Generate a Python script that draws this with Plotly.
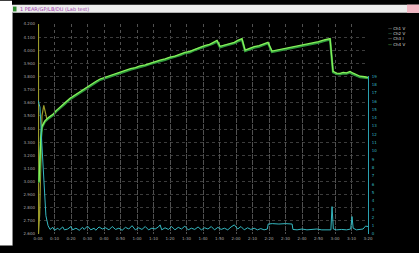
import plotly.graph_objects as go

# ---------------- data ----------------
series_names = ["Ch1 V", "Ch2 V", "Ch3 I", "Ch4 V"]

# olive start trace (left axis)
t_olive = [0.3, 0.3, 1.0, 1.8, 2.4, 3.5, 4.5, 5.5]
v_olive = [4.20, 2.60, 2.75, 3.30, 3.50, 3.58, 3.52, 3.47]

# main bright green trace (left axis)
t_green = [0.6, 1.2, 1.8, 2.4, 4.2, 6.5, 9.1, 11, 13.3, 16, 19.4, 22, 25, 27, 29.7, 32, 35,
           37.6, 40, 43, 46, 49.7, 53, 56, 59, 61.8, 65, 68, 71, 73.9, 77, 80, 83, 86.1, 89,
           92, 95, 98.2, 101, 104, 106, 108.5, 110.3, 113, 116, 119, 121, 123.6, 125.5, 128,
           131, 134, 137, 139.4, 141.8, 145, 148, 151, 154.5, 158, 162, 166, 170, 174, 177,
           178.8, 181, 183, 185, 187, 189.1, 191, 193, 195.2, 198, 200]
v_green = [2.998, 3.197, 3.345, 3.420, 3.462, 3.490, 3.512, 3.540, 3.568, 3.596, 3.634, 3.656,
           3.684, 3.700, 3.722, 3.740, 3.762, 3.781, 3.792, 3.806, 3.816, 3.836, 3.846, 3.860,
           3.868, 3.881, 3.889, 3.903, 3.911, 3.925, 3.934, 3.948, 3.955, 3.970, 3.984, 3.991,
           4.009, 4.022, 4.035, 4.045, 4.058, 4.075, 4.030, 4.040, 4.052, 4.060, 4.075, 4.089,
           4.001, 4.015, 4.028, 4.035, 4.050, 4.060, 3.994, 4.002, 4.010, 4.015, 4.023, 4.035,
           4.045, 4.055, 4.065, 4.080, 4.089, 3.839, 3.826, 3.824, 3.832, 3.828, 3.839, 3.825,
           3.815, 3.802, 3.798, 3.794]

# darker green companion trace (left axis)
v_dkgreen = [2.990, 3.190, 3.338, 3.412, 3.455, 3.482, 3.505, 3.533, 3.561, 3.588, 3.627, 3.649,
             3.676, 3.693, 3.714, 3.733, 3.754, 3.774, 3.785, 3.798, 3.809, 3.828, 3.839, 3.852,
             3.861, 3.873, 3.882, 3.895, 3.904, 3.917, 3.927, 3.940, 3.948, 3.962, 3.977, 3.984,
             4.001, 4.015, 4.027, 4.038, 4.050, 4.067, 4.022, 4.033, 4.044, 4.053, 4.067, 4.081,
             3.994, 4.007, 4.020, 4.028, 4.042, 4.053, 3.987, 3.995, 4.002, 4.008, 4.015, 4.028,
             4.037, 4.048, 4.057, 4.072, 4.081, 3.832, 3.819, 3.817, 3.824, 3.821, 3.831, 3.818,
             3.808, 3.795, 3.791, 3.787]

# cyan current trace (right axis)
t_cyan = [0, 1.2, 2.4, 3.6, 4.8, 6.1, 7.3, 9, 10, 12, 13, 15, 16, 18, 20, 21, 23, 25, 27, 28, 30,
          32, 34, 35, 37, 39, 41, 43, 45, 47, 49, 51, 53, 55, 57, 59, 61, 63, 65, 67, 69, 71, 73,
          74, 75, 77, 79, 81, 83, 85, 87, 89, 91, 93, 95, 97, 99, 101, 103, 105, 107, 109, 111,
          113, 115, 117, 119, 121, 123, 125, 127, 129, 131, 133, 135, 137, 139, 139.5, 142, 146,
          150, 154, 154.5, 157, 160, 163, 166, 169, 172, 175, 177.5, 178.2, 179, 181, 184, 187,
          189.5, 190.3, 191, 193, 195, 197, 198.5, 200]
v_cyan = [16.1, 15.3, 10.6, 5.9, 2.2, 1.0, 0.55, 0.8, 0.45, 0.7, 0.5, 0.85, 0.5, 0.6, 0.9, 0.5,
          0.7, 0.45, 0.8, 0.55, 0.95, 0.5, 0.7, 0.45, 0.85, 0.6, 0.75, 0.5, 0.9, 0.55, 0.7, 0.45,
          0.8, 0.6, 1.0, 0.5, 0.75, 0.55, 0.9, 0.5, 0.7, 0.6, 0.85, 1.1, 0.5, 0.75, 0.55, 0.9, 0.5,
          0.8, 0.6, 0.95, 0.5, 0.7, 0.55, 0.85, 0.5, 0.75, 0.6, 0.9, 0.5, 0.8, 0.55, 0.7, 0.5,
          0.85, 1.1, 0.6, 0.9, 0.5, 0.75, 0.55, 0.7, 0.5, 0.65, 0.5, 0.6, 1.2, 1.25, 1.2, 1.25,
          1.2, 0.55, 0.5, 0.6, 0.5, 0.55, 0.6, 0.5, 0.55, 0.5, 3.3, 0.6, 0.5, 0.55, 0.5, 0.6,
          2.1, 0.7, 0.5, 0.55, 0.6, 0.95, 0.9]

x_tick_vals = [0, 10, 20, 30, 40, 50, 60, 70, 80, 90, 100, 110, 120, 130, 140, 150, 160, 170,
               180, 190, 200]
x_tick_text = ["0:00", "0:10", "0:20", "0:30", "0:40", "0:50", "1:00", "1:10", "1:20", "1:30",
               "1:40", "1:50", "2:00", "2:10", "2:20", "2:30", "2:40", "2:50", "3:00", "3:10",
               "3:20"]
left_ticks = [2.6, 2.7, 2.8, 2.9, 3.0, 3.1, 3.2, 3.3, 3.4, 3.5, 3.6, 3.7, 3.8, 3.9, 4.0, 4.1, 4.2]
right_ticks = list(range(0, 20))

title_text = "1 PEAR/GP/LB/DU (Lab test)"

# ---------------- figure ----------------
W, H = 419, 253
L, R, T, B = 38, 51, 24, 12
pw, ph = W - L - R, H - T - B


def px(x):
    return (x - L) / pw


def py(y):
    return (H - B - y) / ph


FONT = "DejaVu Sans"
fig = go.Figure()
fig.add_trace(go.Scatter(x=t_olive, y=v_olive, mode="lines", name=series_names[0],
                         line=dict(color="#9a9a2a", width=1.2)))
fig.add_trace(go.Scatter(x=t_green, y=v_dkgreen, mode="lines", name=series_names[3],
                         line=dict(color="#2f9a3c", width=2.2)))
fig.add_trace(go.Scatter(x=t_green, y=v_green, mode="lines", name=series_names[1],
                         line=dict(color="#86f25a", width=1.3)))
fig.add_trace(go.Scatter(x=t_cyan, y=v_cyan, mode="lines", name=series_names[2], yaxis="y2",
                         line=dict(color="#35b8c0", width=1)))

fig.update_layout(
    width=W, height=H, autosize=False,
    margin=dict(l=L, r=R, t=T, b=B, pad=0),
    paper_bgcolor="#000000", plot_bgcolor="rgba(0,0,0,0)",
    showlegend=False,
    font=dict(family=FONT, size=4, color="#a8a8a8"),
    xaxis=dict(range=[0, 200], tickvals=x_tick_vals, ticktext=x_tick_text, tickangle=0,
               showgrid=True, gridcolor="#505050", griddash="dot", gridwidth=1,
               zeroline=False, showline=False, ticks="", tickfont=dict(size=4, color="#a8a8a8"),
               ticklabelstandoff=1),
    yaxis=dict(range=[2.6, 4.2], tickvals=left_ticks, tickformat=".3f",
               showgrid=True, gridcolor="#3c3c3c", griddash="dot", gridwidth=1,
               zeroline=False, showline=False, ticks="", tickfont=dict(size=4, color="#a8a8a8"),
               ticklabelstandoff=2),
    yaxis2=dict(range=[0, 19], tickvals=right_ticks, side="right", anchor="x",
                domain=[0, (H - B - 78) / ph], showgrid=False, zeroline=False,
                showline=True, linecolor="#2aa0b0", linewidth=1, ticks="",
                tickfont=dict(size=4, color="#35b8c0"), ticklabelstandoff=2),
)

shapes = [
    # white left strip
    dict(type="rect", xref="paper", yref="paper", x0=px(0), x1=px(12), y0=py(H), y1=py(0),
         fillcolor="#ffffff", line=dict(width=0), layer="above"),
    # header strip
    dict(type="rect", xref="paper", yref="paper", x0=px(12), x1=px(W), y0=py(12.5), y1=py(4),
         fillcolor="#ececec", line=dict(width=0), layer="above"),
    # close button
    dict(type="rect", xref="paper", yref="paper", x0=px(407), x1=px(W), y0=py(12.5), y1=py(4),
         fillcolor="#f2b8c4", line=dict(width=0), layer="above"),
    # green icon
    dict(type="rect", xref="paper", yref="paper", x0=px(13), x1=px(16.5), y0=py(11), y1=py(6),
         fillcolor="#2e8b2e", line=dict(width=0), layer="above"),
    # left frame line
    dict(type="line", xref="paper", yref="paper", x0=px(12.5), x1=px(12.5), y0=py(H), y1=py(12.5),
         line=dict(color="#8a8a8a", width=1), layer="above"),
]
fig.update_layout(shapes=shapes)

legend_colors = ["#c8c8b0", "#5ed07a", "#d0d0d0", "#86f25a"]
legend_html = "<br>".join(
    f"<span style='color:{c}'>—</span> <span style='color:#d8d8d8'>{n}</span>"
    for c, n in zip(legend_colors, series_names)
)
fig.add_annotation(xref="paper", yref="paper", x=px(386), y=py(24), xanchor="left",
                   yanchor="top", text=legend_html, showarrow=False, align="left",
                   font=dict(family=FONT, size=4, color="#d8d8d8"))
fig.add_annotation(xref="paper", yref="paper", x=px(18), y=py(8.3), xanchor="left",
                   yanchor="middle", text=title_text, showarrow=False,
                   font=dict(family=FONT, size=5, color="#a040b0"))

fig.write_html("out.html", config={"displayModeBar": False},
               post_script="document.body.style.margin='0';")
